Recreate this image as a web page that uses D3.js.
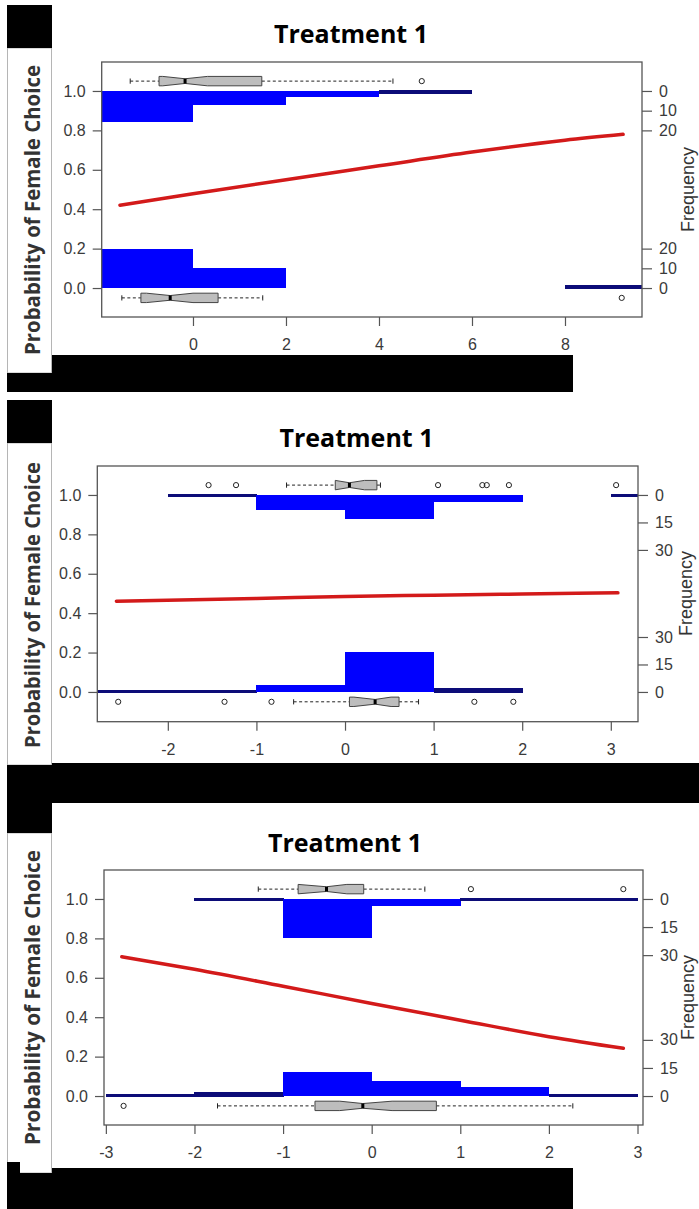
<!DOCTYPE html>
<html><head><meta charset="utf-8">
<script src="https://cdn.jsdelivr.net/npm/d3@7"></script>
<style>body{margin:0;background:#fff}svg{display:block}</style>
</head><body>
<svg id="c" width="699" height="1209"></svg>
<script>
// ---------- data ----------
const titleText = "Treatment 1";
const yLabelText = "Probability of Female Choice";
const freqLabelText = "Frequency";
const yTicks = [0, 0.2, 0.4, 0.6, 0.8, 1.0];

// Panel 1
const p1XTicks = [0, 2, 4, 6, 8];
const p1FreqTicks = [0, 10, 20];
const p1TopEdges = [-2, 0, 2, 4, 6];
const p1TopCounts = [16, 7, 3, 1];
const p1BottomEdges = [-2, 0, 2, 4, 6, 8, 10];
const p1BottomCounts = [20, 10, 0, 0, 0, 1];
const p1CurveX = [-1.57, 0, 2, 4, 6, 8, 9.25];
const p1CurveP = [0.42, 0.478, 0.55, 0.62, 0.69, 0.75, 0.78];
// whisker low, Q1, notch low, median, notch high, Q3, whisker high
const p1TopBox = [-1.35, -0.73, -0.65, -0.17, 0.31, 1.48, 4.30];
const p1TopOutliers = [4.92];
const p1BottomBox = [-1.53, -1.12, -1.0, -0.49, 0.0, 0.54, 1.50];
const p1BottomOutliers = [9.22];

// Panel 2
const p2XTicks = [-2, -1, 0, 1, 2, 3];
const p2FreqTicks = [0, 15, 30];
const p2TopEdges = [-2, -1, 0, 1, 2, 3, 4];
const p2TopCounts = [1, 8, 13, 4, 0, 1];
const p2BottomEdges = [-3, -2, -1, 0, 1, 2];
const p2BottomCounts = [1, 1, 4, 22, 2];
const p2CurveX = [-2.58, -1, 0, 1, 2, 3.08];
const p2CurveP = [0.461, 0.474, 0.485, 0.491, 0.497, 0.503];
const p2TopBox = [-0.66, -0.11, -0.11, 0.05, 0.22, 0.36, 0.40];
const p2TopOutliers = [-1.54, -1.23, 1.05, 1.55, 1.60, 1.85, 3.06];
const p2BottomBox = [-0.58, 0.05, 0.10, 0.34, 0.52, 0.61, 0.83];
const p2BottomOutliers = [-2.56, -1.36, -0.83, 1.46, 1.90];

// Panel 3
const p3XTicks = [-3, -2, -1, 0, 1, 2, 3];
const p3FreqTicks = [0, 15, 30];
const p3TopEdges = [-2, -1, 0, 1, 2, 3];
const p3TopCounts = [1, 21, 4, 1, 1];
const p3BottomEdges = [-3, -2, -1, 0, 1, 2, 3];
const p3BottomCounts = [1, 2, 13, 8, 5, 1];
const p3CurveX = [-2.82, -2, -1, 0, 1, 2, 2.84];
const p3CurveP = [0.707, 0.643, 0.557, 0.47, 0.385, 0.301, 0.242];
const p3TopBox = [-1.28, -0.83, -0.83, -0.51, -0.28, -0.09, 0.60];
const p3TopOutliers = [1.12, 2.84];
const p3BottomBox = [-1.74, -0.64, -0.36, -0.10, 0.23, 0.73, 2.27];
const p3BottomOutliers = [-2.80];

// ---------- drawing ----------
const svg = d3.select("#c");
const tickFont = "'Liberation Sans', Arial, sans-serif";

function drawPanel(id, lay, data) {
  const x = d3.scaleLinear().domain(lay.xDom).range([lay.L, lay.R]);
  const y = d3.scaleLinear().domain(lay.yDom).range([lay.B, lay.T]);
  const g = svg.append("g");
  const clipId = "clip" + id;
  svg.append("clipPath").attr("id", clipId).append("rect")
    .attr("x", lay.L).attr("y", lay.T).attr("width", lay.R - lay.L).attr("height", lay.B - lay.T);
  const pg = g.append("g").attr("clip-path", `url(#${clipId})`);

  // histogram bars (thin bars render as dark navy rules, as in the original)
  const k = lay.k;
  const bars = pg.append("g").attr("shape-rendering", "crispEdges");
  function bar(x0, x1, ya, yb) {
    const top = Math.min(ya, yb), h = Math.abs(yb - ya);
    const thin = h < 4;
    bars.append("rect")
      .attr("x", x0).attr("width", x1 - x0 + 0.5)
      .attr("y", thin ? top - 0.6 : top).attr("height", thin ? h + 1.2 : h)
      .attr("fill", thin ? "#0c0c78" : "#0000ff");
  }
  data.topCounts.forEach((c, i) => {
    if (c <= 0) return;
    bar(x(data.topEdges[i]), x(data.topEdges[i + 1]), y(1), y(1 - k * c));
  });
  data.bottomCounts.forEach((c, i) => {
    if (c <= 0) return;
    bar(x(data.bottomEdges[i]), x(data.bottomEdges[i + 1]), y(0), y(k * c));
  });

  // fitted curve
  const pts = data.curveX.map((v, i) => [v, data.curveP[i]]);
  pg.append("path").datum(pts)
    .attr("d", d3.line().x(d => x(d[0])).y(d => y(d[1])).curve(d3.curveMonotoneX))
    .attr("fill", "none").attr("stroke", "#d31a1a").attr("stroke-width", 3.5).attr("stroke-linecap", "round");

  // boxplots
  function boxplot(yc, b, outs) {
    const [wl, q1, nl, md, nh, q3, wh] = b;
    const cy = y(yc), h = 4.7, hs = 2.35;
    pg.append("line").attr("x1", x(wl)).attr("x2", x(q1)).attr("y1", cy).attr("y2", cy)
      .attr("stroke", "#222").attr("stroke-width", 1).attr("stroke-dasharray", "3,2.5");
    pg.append("line").attr("x1", x(q3)).attr("x2", x(wh)).attr("y1", cy).attr("y2", cy)
      .attr("stroke", "#222").attr("stroke-width", 1).attr("stroke-dasharray", "3,2.5");
    [wl, wh].forEach(v => pg.append("line").attr("x1", x(v)).attr("x2", x(v))
      .attr("y1", cy - 2.6).attr("y2", cy + 2.6).attr("stroke", "#222").attr("stroke-width", 1));
    const poly = [[q1, -h], [nl, -h], [md, -hs], [nh, -h], [q3, -h], [q3, h], [nh, h], [md, hs], [nl, h], [q1, h]];
    pg.append("polygon").attr("points", poly.map(p => `${x(p[0])},${cy + p[1]}`).join(" "))
      .attr("fill", "#bdbdbd").attr("stroke", "#444").attr("stroke-width", 1);
    pg.append("line").attr("x1", x(md)).attr("x2", x(md)).attr("y1", cy - hs).attr("y2", cy + hs)
      .attr("stroke", "#000").attr("stroke-width", 3);
    outs.forEach(v => pg.append("circle").attr("cx", x(v)).attr("cy", cy).attr("r", 2.6)
      .attr("fill", "none").attr("stroke", "#222").attr("stroke-width", 1));
  }
  boxplot(1.05, data.topBox, data.topOutliers);
  boxplot(-0.05, data.bottomBox, data.bottomOutliers);

  // frame
  g.append("rect").attr("x", lay.L).attr("y", lay.T).attr("width", lay.R - lay.L).attr("height", lay.B - lay.T)
    .attr("fill", "none").attr("stroke", "#555").attr("stroke-width", 1.3);

  // left axis
  const la = g.append("g").attr("transform", `translate(${lay.L},0)`)
    .call(d3.axisLeft(y).tickValues(yTicks).tickFormat(d3.format(".1f")).tickSize(9).tickPadding(7));
  // bottom axis
  const ba = g.append("g").attr("transform", `translate(0,${lay.B})`)
    .call(d3.axisBottom(x).tickValues(data.xTicks).tickFormat(d => String(d).replace("\u2212", "-")).tickSize(9).tickPadding(13));
  // right frequency axes (top & bottom)
  const fy1 = d3.scaleLinear().domain([0, 1]).range([y(1), y(1 - k)]);
  const fy0 = d3.scaleLinear().domain([0, 1]).range([y(0), y(k)]);
  const ra1 = g.append("g").attr("transform", `translate(${lay.R},0)`)
    .call(d3.axisRight(fy1).tickValues(data.freqTicks).tickFormat(d3.format("d")).tickSize(10).tickPadding(7));
  const ra0 = g.append("g").attr("transform", `translate(${lay.R},0)`)
    .call(d3.axisRight(fy0).tickValues(data.freqTicks).tickFormat(d3.format("d")).tickSize(10).tickPadding(7));
  [la, ba, ra1, ra0].forEach(a => {
    a.select(".domain").remove();
    a.selectAll(".tick line").attr("stroke", "#555").attr("stroke-width", 1.2);
    a.selectAll(".tick text").attr("fill", "#3a3a3a").style("font-family", tickFont).style("font-size", "16px");
  });

  // title
  g.append("text").attr("x", lay.titleX).attr("y", lay.titleY).attr("text-anchor", "middle")
    .style("font-family", "'Open Sans', sans-serif").style("font-weight", "bold").style("font-size", "25px")
    .attr("fill", "#000").text(titleText);

  // Frequency label
  g.append("text").attr("transform", `translate(${lay.freqX},${y(0.5)}) rotate(-90)`)
    .attr("text-anchor", "middle").style("font-family", tickFont).style("font-size", "18px")
    .attr("fill", "#333").text(freqLabelText);

  // left label strip
  g.append("rect").attr("x", 7.5).attr("y", lay.stripT).attr("width", 44).attr("height", lay.stripB - lay.stripT)
    .attr("fill", "#fff").attr("stroke", "#b5b5b5").attr("stroke-width", 1);
  g.append("text").attr("transform", `translate(40,${lay.labelC}) rotate(-90)`)
    .attr("text-anchor", "middle").attr("textLength", lay.labelLen).attr("lengthAdjust", "spacingAndGlyphs")
    .style("font-family", "'Open Sans', sans-serif").style("font-weight", "bold").style("font-size", "22px")
    .attr("fill", "#333").text(yLabelText);
}

drawPanel(1,
  {L: 101.7, R: 642, T: 62, B: 317, xDom: [-1.963, 9.656], yDom: [-0.147, 1.147], k: 0.0100,
   titleX: 351, titleY: 43, freqX: 694, stripT: 48, stripB: 373, labelC: 210, labelLen: 290},
  {xTicks: p1XTicks, freqTicks: p1FreqTicks, topEdges: p1TopEdges, topCounts: p1TopCounts,
   bottomEdges: p1BottomEdges, bottomCounts: p1BottomCounts, curveX: p1CurveX, curveP: p1CurveP,
   topBox: p1TopBox, topOutliers: p1TopOutliers, bottomBox: p1BottomBox, bottomOutliers: p1BottomOutliers});

drawPanel(2,
  {L: 97.3, R: 638, T: 466, B: 721.7, xDom: [-2.796, 3.307], yDom: [-0.151, 1.147], k: 0.0093,
   titleX: 356.5, titleY: 446.7, freqX: 692, stripT: 443, stripB: 765, labelC: 605, labelLen: 286},
  {xTicks: p2XTicks, freqTicks: p2FreqTicks, topEdges: p2TopEdges, topCounts: p2TopCounts,
   bottomEdges: p2BottomEdges, bottomCounts: p2BottomCounts, curveX: p2CurveX, curveP: p2CurveP,
   topBox: p2TopBox, topOutliers: p2TopOutliers, bottomBox: p2BottomBox, bottomOutliers: p2BottomOutliers});

drawPanel(3,
  {L: 104, R: 643, T: 870, B: 1125, xDom: [-3.021, 3.062], yDom: [-0.147, 1.147], k: 0.0095,
   titleX: 345, titleY: 851.7, freqX: 694, stripT: 833, stripB: 1173, labelC: 997.5, labelLen: 295},
  {xTicks: p3XTicks, freqTicks: p3FreqTicks, topEdges: p3TopEdges, topCounts: p3TopCounts,
   bottomEdges: p3BottomEdges, bottomCounts: p3BottomCounts, curveX: p3CurveX, curveP: p3CurveP,
   topBox: p3TopBox, topOutliers: p3TopOutliers, bottomBox: p3BottomBox, bottomOutliers: p3BottomOutliers});

// black redaction blocks
const blocks = [
  [7, 5, 45, 43], [52, 355, 521, 37], [7, 373, 45, 19],
  [7, 400, 45, 43], [52, 763, 647, 40], [7, 765, 45, 68],
  [52, 1168, 521, 41], [7, 1173, 45, 36], [7, 1162, 13, 11]
];
svg.append("g").selectAll("rect").data(blocks).join("rect")
  .attr("x", d => d[0]).attr("y", d => d[1]).attr("width", d => d[2]).attr("height", d => d[3])
  .attr("fill", "#000");
</script>
</body></html>
